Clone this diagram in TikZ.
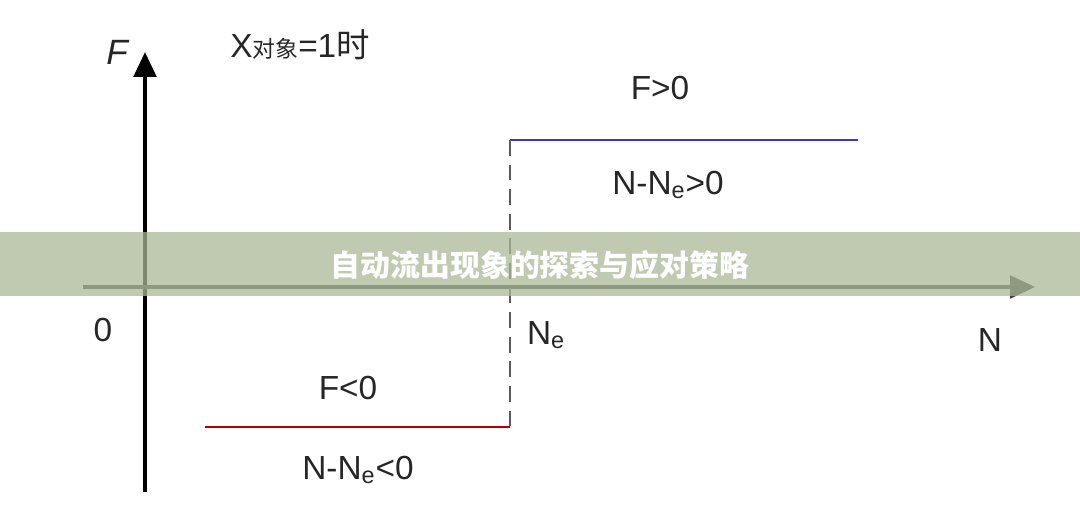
\documentclass[tikz,border=0pt]{standalone}
\usepackage{fontspec}
\setmainfont{Liberation Sans}
\newfontfamily\cjk{Noto Sans CJK SC}
\usetikzlibrary{arrows.meta, positioning}

\begin{document}
\begin{tikzpicture}[
    x=0.02cm, y=-0.02cm,
    axis/.style={line width=2.2pt, -{Triangle[length=5mm, width=4.5mm]}},
    lbl/.style={font=\fontsize{19}{22}\selectfont, text=black!85},
    level/.style={line width=1.6pt}
]
    \useasboundingbox (0,0) rectangle (1080,528);
    % Axes
    \coordinate (yfoot) at (145,492);
    \coordinate (ytip) at (145,52);
    \coordinate (xfoot) at (83,287);
    \coordinate (xtip) at (1035,287);
    \draw[axis, black] (yfoot) -- (ytip);
    \draw[axis, black!75] (xfoot) -- (xtip);

    % Levels
    \coordinate (hi0) at (510,140);
    \coordinate (hi1) at (858,140);
    \coordinate (lo0) at (205,427);
    \coordinate (lo1) at (510,427);
    \draw[level, blue!55!gray] (hi0) -- (hi1);
    \draw[level, red!70!black] (lo0) -- (lo1);
    \draw[level, black!65, dash pattern=on 9pt off 5pt] (hi0) -- (lo1);

    % Labels
    \node[lbl, font=\fontsize{20}{22}\selectfont\itshape] (fl) at (117,52) {F};
    \node[lbl] (cond) at (300,45) {X{\cjk\fontsize{13}{15}\selectfont 对象}={}1{\cjk 时}};
    \node[lbl] (fpos) at (660,88) {F>0};
    \node[lbl] (npos) at (668,185) {N-N$_\mathrm{e}$>0};
    \node[lbl] (zero) at (103,330) {0};
    \node[lbl] (ne) at (546,335) {N$_\mathrm{e}$};
    \node[lbl] (nl) at (990,340) {N};
    \node[lbl] (fneg) at (348,388) {F<0};
    \node[lbl] (nneg) at (358,470) {N-N$_\mathrm{e}$<0};

    % Banner
    \fill[fill={rgb,255:red,170;green,184;blue,150}, opacity=0.75] (0,232) rectangle (1080,296);
    \node[font=\cjk\bfseries\fontsize{17}{20}\selectfont, text=white] (title) at (540,265) {自动流出现象的探索与应对策略};
\end{tikzpicture}
\end{document}
